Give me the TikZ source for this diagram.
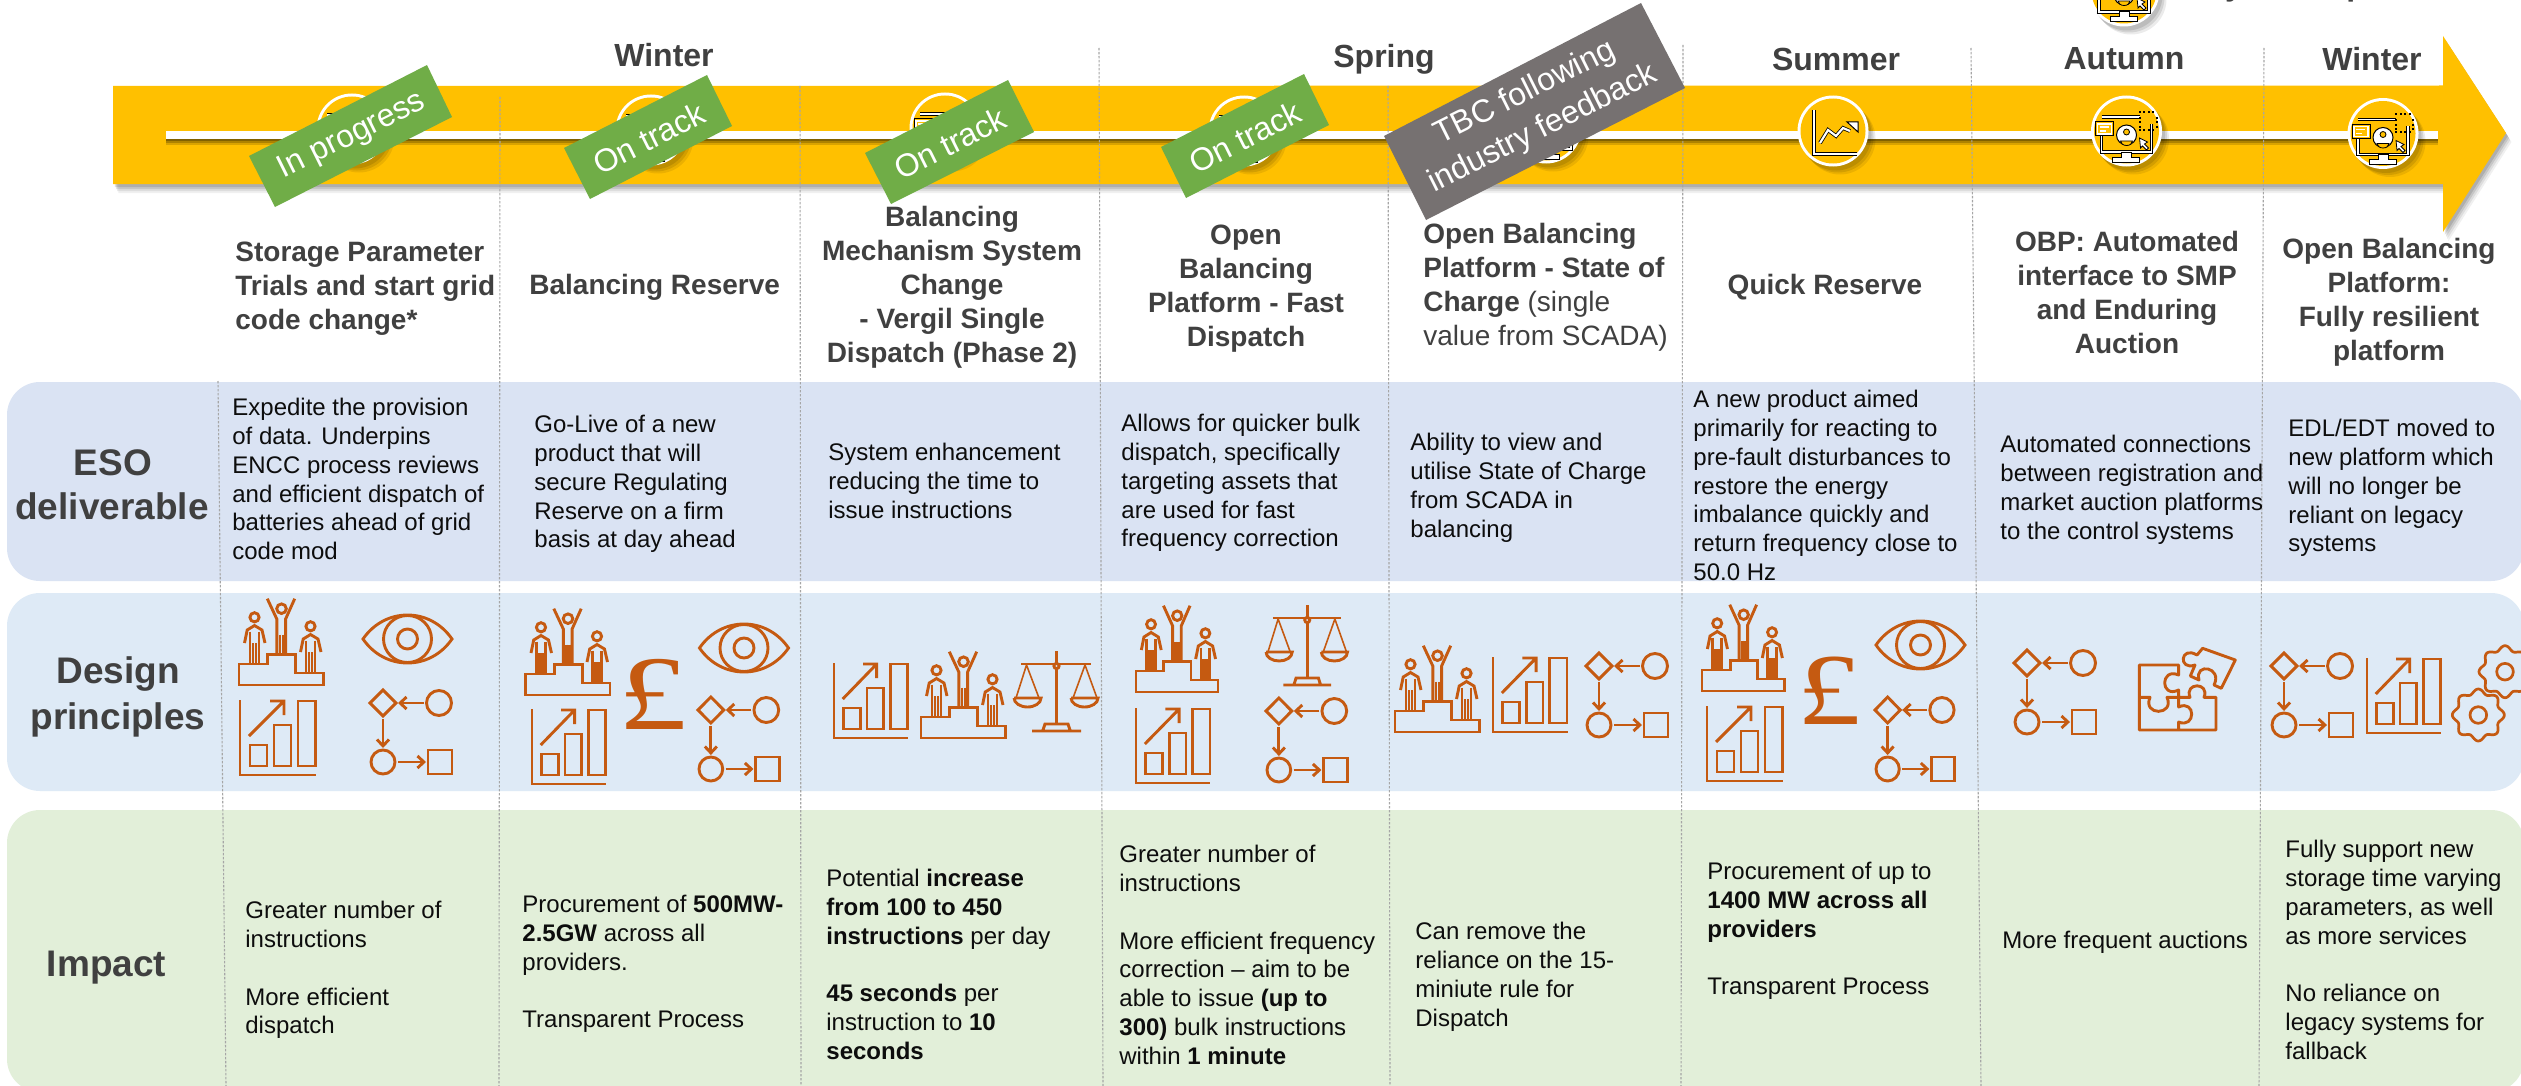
\documentclass[tikz,border=0pt]{standalone}
\usepackage{fontspec}
\setmainfont{Liberation Sans}
\newfontfamily\poundfont{Liberation Serif}
\usetikzlibrary{arrows.meta}
\definecolor{barcol}{HTML}{FFC000}
\definecolor{rowa}{HTML}{DAE3F3}
\definecolor{rowb}{HTML}{DEEAF6}
\definecolor{rowc}{HTML}{E2EFD9}
\definecolor{dark}{HTML}{404040}
\definecolor{bodycol}{HTML}{0D0D0D}
\definecolor{iconc}{HTML}{C55A11}
\definecolor{tagg}{HTML}{70AD47}
\definecolor{tagk}{HTML}{767171}
\definecolor{vln}{HTML}{A6A6A6}
\tikzset{
  bodytxt/.style={font=\fontsize{12}{14.4}\selectfont,text=bodycol,align=left,anchor=north west,inner sep=0pt,yshift=9.08pt,execute at begin node=\strut},
  hdrl/.style={font=\fontsize{14}{17}\selectfont\bfseries,text=dark,align=left,anchor=north west,inner sep=0pt,yshift=11.9pt,execute at begin node=\strut},
  hdrc/.style={font=\fontsize{14}{17}\selectfont\bfseries,text=dark,align=center,anchor=north,inner sep=0pt,yshift=11.9pt,execute at begin node=\strut},
  season/.style={font=\fontsize{16}{19}\selectfont\bfseries,text=dark,anchor=base,inner sep=0pt},
  rowlabel/.style={font=\fontsize{18.5}{22.5}\selectfont\bfseries,text=dark,anchor=base,inner sep=0pt},
  tagtxt/.style={font=\fontsize{16}{19}\selectfont,text=white,align=center,rotate=26.5,inner sep=0pt},
  band/.style={rounded corners=16.5pt},
  vline/.style={draw=vln,line width=0.55pt,dash pattern=on 1.2pt off 0.8pt},
  ico/.style={draw=iconc,line width=1.45pt,line join=miter},
  icohead/.style={ico,-{Straight Barb[length=3.2pt,width=6pt,line width=1.45pt]}},
  iconpodium/.pic={
    \draw[ico] (0,66)--(28.7,66)--(28.7,56.5)--(56.7,56.5)--(56.7,75)--(84.5,75)--(84.5,87)--(0,87)--cycle;
    \draw[ico] (42.5,10.7) circle (4.8);
    \draw[ico] (28.3,.7)--(37.8,21)--(37.8,56.5) (55.7,.7)--(46.6,21)--(46.6,56.5);
    \draw[ico] (41,36.5)--(41,56.5) (44,36.5)--(44,56.5);
    \foreach \dx/\dy in {0/0,56/9}{
      \begin{scope}[shift={(\dx,\dy)}]
      \draw[ico] (15.5,19.3) circle (4.6);
      \draw[ico] (5.5,45)--(8.2,32)--(15.5,27.5)--(23,32)--(26,45);
      \draw[ico] (11,33.5)--(11,66) (20,33.5)--(20,66) (14,45)--(14,66) (17,45)--(17,66);
      \end{scope}}
  },
  iconeye/.pic={
    \draw[ico] (0,24) .. controls (22,-8) and (67,-8) .. (89,24) .. controls (67,56) and (22,56) .. (0,24)--cycle;
    \draw[ico] (44.5,24) ellipse (24 and 23.5);
    \draw[ico] (44.5,24) circle (10);
  },
  iconchart/.pic={
    \draw[ico] (0,0)--(0,75)--(76,75);
    \draw[ico] (10,45) rectangle (27,66);
    \draw[ico] (34,25) rectangle (51,66);
    \draw[ico] (58,1) rectangle (75.5,66);
    \draw[ico] (9,36)--(44,1) (30,1)--(44,1)--(44,15);
  },
  iconflow/.pic={
    \draw[ico] (13,0)--(26,13)--(13,26)--(0,13)--cycle;
    \draw[ico] (69,13) circle (12.5);
    \draw[icohead] (54,13)--(28,13);
    \draw[icohead] (13,29)--(13,58);
    \draw[ico] (13,72) circle (12);
    \draw[icohead] (28,72)--(56,72);
    \draw[ico] (58,60) rectangle (82,84);
  },
  iconscale/.pic={
    \draw[ico] (7,13)--(77,13);
    \draw[ico] (42.5,0)--(42.5,72);
    \draw[ico,fill=rowb] (42.5,15) circle (2.6);
    \draw[ico] (18,80)--(67,80) (29,79)--(31,73)--(54,73)--(56,79);
    \draw[ico,line width=.8pt] (12.5,14)--(2,47) (12.5,14)--(25,47) (71,14)--(59,47) (71,14)--(83,47);
    \draw[ico] (0,47)--(27,47) arc (0:180:13.5 and 9) ;
    \draw[ico] (57,47)--(84,47) arc (0:180:13.5 and 9) ;
  },
  iconpuzzle/.pic={
    \draw[ico,line join=round] (40.6,50.3)--(40.6,43) .. controls (22,52) and (22,20) .. (40.6,28)--(40.6,18)--(1.3,18)--(1.3,83)--(78,83)--(78,50.3)--(66,50.3) .. controls (72,35) and (46,35) .. (52,50.3)--(40.6,50.3)--(40.6,60) .. controls (58,52) and (58,82) .. (40.6,75)--(40.6,83);
    \draw[ico,line join=round] (1.3,50.3)--(12,50.3) .. controls (4,69) and (37,69) .. (29,50.3)--(40.6,50.3);
    \draw[ico,line join=round] (64.6,1.3)--(97.3,13)--(83.3,41.3)--(76,38) .. controls (85,20) and (56,15) .. (61,33)--(52.3,29)--(57,18) .. controls (40,24) and (42,-2) .. (59,8)--cycle;
  },
  icongear/.pic={
    \draw[ico,line width=1.35pt] plot[domain=0:360,samples=145,smooth cycle] (\x:{23.7+2.3*cos(8*\x)});
    \draw[ico,line width=1.35pt] (0,0) circle (8.3);
  },
  iconmonitor/.pic={
    \draw[black,line width=1.6pt] (-25,-14)--(13,-14) (25,-7)--(25,21)--(-25,21)--(-25,0);
    \draw[white,line width=.9pt] (-25,-14)--(13,-14) (25,-7)--(25,21)--(-25,21)--(-25,0);
    \draw[black,fill=white,line width=.5pt] (-5,21)--(-5,26)--(-14,26)--(-14,31)--(13,31)--(13,26)--(5,26)--(5,21)--cycle;
    \draw[black,fill=barcol,line width=.5pt] (-31,-9) rectangle (-13,5);
    \draw[white,line width=.6pt] (-29,-7) rectangle (-15,3);
    \draw[white,line width=.6pt] (-27,-4)--(-18,-4) (-27,0)--(-21,0);
    \draw[black,fill=white,line width=.5pt] (0,4) circle (10);
    \draw[black,fill=barcol,line width=.4pt] (0,1) circle (3);
    \draw[black,fill=barcol,line width=.4pt] (-6,10) arc (180:360:6 and -4.5)--cycle;
    \draw[black,fill=white,line width=.4pt] (13,7)--(21,11)--(18,13)--(22,17)--(20,19)--(16,15)--(14,17)--cycle;
    \foreach \a in {13,17.5,...,30}{\fill[black] (\a-1,-20) rectangle (\a+1,-18); \fill[black] (\a-1,-2) rectangle (\a+1,0);}
    \foreach \b in {-14,-9.5,-5}{\fill[black] (12,\b) rectangle (14,\b+2); \fill[black] (29,\b) rectangle (31,\b+2);}
  },
  iconrise/.pic={
    \draw[black,line width=1.8pt] (-19,-21)--(-19,23)--(24,23);
    \draw[white,line width=1.1pt] (-19,-21)--(-19,23)--(24,23);
    \draw[black,line width=1.9pt] (-13,12)--(-5,-1)--(3,5)--(10,-3)--(17,0);
    \draw[white,line width=1.1pt] (-13,12)--(-5,-1)--(3,5)--(10,-3)--(17,0);
    \draw[black,fill=white,line width=.5pt] (14,-9)--(25,-9)--(25,1)--cycle;
  },
}
\newcommand{\disc}[2]{%
  \foreach \s/\o in {3/.10,5/.10,7/.08}{\fill[black,opacity=\o] (#1+\s,#2+\s+1) circle (35.5);}
  \fill[white] (#1,#2) circle (35.5);
  \fill[barcol] (#1,#2) circle (32.5);}
\begin{document}
\begin{tikzpicture}[x=0.5pt,y=-0.5pt]
\useasboundingbox (0,0) rectangle (2521,1086);
\fill[white] (0,0) rectangle (2521,1086);
% bands
\fill[rowa,band] (7,382) rectangle (2524,581);
\fill[rowb,band] (7,593) rectangle (2524,791);
\fill[rowc,band] (7,810) rectangle (2524,1092);
% arrow shadow and arrow
\foreach \s/\o in {3/.12,5/.10,7/.08,9/.06}{
  \fill[black,opacity=\o] (113+\s*.6,86+\s) -- (2443+\s*.6,85.5+\s) -- (2443+\s*.6,36+\s) -- (2506+\s*.6,133+\s) -- (2443+\s*.6,232+\s) -- (2443+\s*.6,184+\s) -- (113+\s*.6,184+\s) -- cycle;}
\fill[barcol] (113,86) -- (2443,85.5) -- (2443,36) -- (2506,133) -- (2443,232) -- (2443,184) -- (113,184) -- cycle;
% white line
\foreach \s/\o in {2/.25,4/.2,6/.15}{\fill[black,opacity=\o] (166,133+\s) rectangle (2438,139+\s);}
\fill[white] (166,131) rectangle (2438,139);
% vertical dotted lines
\draw[vline] (218,381) -- (226,1086);
\draw[vline] (500,97) -- (499,1086);
\draw[vline] (800,86) -- (801,1086);
\draw[vline] (1099,48) -- (1103,1086);
\draw[vline] (1388,86) -- (1390,1086);
\draw[vline] (1683,45) -- (1681,1086);
\draw[vline] (1971,48) -- (1981,1086);
\draw[vline] (2264,48) -- (2259,1086);
% timeline discs
\disc{352}{129}\pic at (352,129) {iconmonitor};
\disc{651}{130}\pic at (651,130) {iconmonitor};
\disc{945}{128}\pic at (945,128) {iconmonitor};
\disc{1244}{131}\pic at (1244,131) {iconmonitor};
\disc{1546}{128}\pic at (1546,128) {iconmonitor};
\disc{1833}{131}\pic at (1833,131) {iconrise};
\disc{2126.5}{131}\pic at (2126.5,131) {iconmonitor};
\disc{2383}{133.5}\pic at (2383,133.5) {iconmonitor};
\disc{2124}{-9}\pic at (2124,-9) {iconmonitor};
\node[season] (cropy) at (2234,-4) {y};
\node[season] (cropp) at (2356,-4) {p};
% tags
\fill[tagg] (427,65)--(452,117)--(275,207)--(249,156)--cycle;
\fill[tagg] (707,75)--(732,126)--(590,199)--(564,148)--cycle;
\fill[tagg] (1008,80)--(1034,132)--(891,204)--(865,153)--cycle;
\fill[tagg] (1304,74)--(1329,125)--(1186,198)--(1161,147)--cycle;
\fill[tagk] (1641,3)--(1685,88)--(1426,220)--(1384,136)--cycle;
\node[tagtxt] (tag1) at (352,136) {In progress};
\node[tagtxt] (tag2) at (649,138) {On track};
\node[tagtxt] (tag3) at (950,143) {On track};
\node[tagtxt] (tag4) at (1245,137) {On track};
\node[tagtxt] (tag5) at (1534,111) {TBC following\\[1pt]industry feedback};
% seasons
\node[season] (s1) at (664,67) {Winter};
\node[season] (s2) at (1384,68) {Spring};
\node[season] (s3) at (1836,71) {Summer};
\node[season] (s4) at (2124,70) {Autumn};
\node[season] (s5) at (2372,71) {Winter};
% row labels
\node[rowlabel] (r1a) at (113,475) {ESO};
\node[rowlabel] (r1b) at (112,519) {deliverable};
\node[rowlabel] (r2a) at (118,683) {Design};
\node[rowlabel] (r2b) at (118,729) {principles};
\node[rowlabel] (r3) at (106.5,976) {Impact};
% headers
\node[hdrl] (h1) at (235,265) {Storage Parameter\\Trials and start grid\\code change*};
\node[hdrl] (h2) at (529,294.5) {Balancing Reserve};
\node[hdrc] (h3) at (952,230) {Balancing\\Mechanism System\\Change\\- Vergil Single\\Dispatch (Phase 2)};
\node[hdrc] (h4) at (1246,248) {Open\\Balancing\\Platform - Fast\\Dispatch};
\node[hdrl] (h5) at (1423,247) {Open Balancing\\Platform - State of\\Charge {\mdseries (single}\\{\mdseries value from SCADA)}};
\node[hdrc] (h6) at (1825,294.5) {Quick Reserve};
\node[hdrc] (h7) at (2127,254.5) {OBP: Automated\\interface to SMP\\and Enduring\\Auction};
\node[hdrc] (h8) at (2389,262) {Open Balancing\\Platform:\\Fully resilient\\platform};
% deliverables
\node[bodytxt] (d1) at (232,416) {Expedite the provision\\of data. Underpins\\ENCC process reviews\\and efficient dispatch of\\batteries ahead of grid\\code mod};
\node[bodytxt] (d2) at (534,433) {Go-Live of a new\\product that will\\secure Regulating\\Reserve on a firm\\basis at day ahead};
\node[bodytxt] (d3) at (828,461) {System enhancement\\reducing the time to\\issue instructions};
\node[bodytxt] (d4) at (1121,432) {Allows for quicker bulk\\dispatch, specifically\\targeting assets that\\are used for fast\\frequency correction};
\node[bodytxt] (d5) at (1410,451) {Ability to view and\\utilise State of Charge\\from SCADA in\\balancing};
\node[bodytxt] (d6) at (1693,408) {A new product aimed\\primarily for reacting to\\pre-fault disturbances to\\restore the energy\\imbalance quickly and\\return frequency close to\\50.0 Hz};
\node[bodytxt] (d7) at (2000,453) {Automated connections\\between registration and\\market auction platforms\\to the control systems};
\node[bodytxt] (d8) at (2288,437) {EDL/EDT moved to\\new platform which\\will no longer be\\reliant on legacy\\systems};
% impact
\node[bodytxt] (i1) at (245,919) {Greater number of\\instructions\\[14.4pt]More efficient\\dispatch};
\node[bodytxt] (i2) at (522,913) {Procurement of \textbf{500MW-}\\\textbf{2.5GW} across all\\providers.\\[14.4pt]Transparent Process};
\node[bodytxt] (i3) at (826,887) {Potential \textbf{increase}\\\textbf{from 100 to 450}\\\textbf{instructions} per day\\[14.4pt]\textbf{45 seconds} per\\instruction to \textbf{10}\\\textbf{seconds}};
\node[bodytxt] (i4) at (1119,863) {Greater number of\\instructions\\[14.4pt]More efficient frequency\\correction -- aim to be\\able to issue \textbf{(up to}\\\textbf{300)} bulk instructions\\within \textbf{1 minute}};
\node[bodytxt] (i5) at (1415,940) {Can remove the\\reliance on the 15-\\miniute rule for\\Dispatch};
\node[bodytxt] (i6) at (1707,880) {Procurement of up to\\\textbf{1400 MW across all}\\\textbf{providers}\\[14.4pt]Transparent Process};
\node[bodytxt] (i7) at (2002,946) {More frequent auctions};
\node[bodytxt] (i8) at (2285,858) {Fully support new\\storage time varying\\parameters, as well\\as more services\\[14.4pt]No reliance on\\legacy systems for\\fallback};
% icons col A
\pic at (239,598) {iconpodium};
\pic at (363,615) {iconeye};
\pic at (240,700) {iconchart};
\pic at (370,690) {iconflow};
% col B
\pic at (525.5,608) {iconpodium};
\node[font=\fontsize{53}{53}\selectfont\poundfont,text=iconc,inner sep=0pt] (p1) at (653,694) {\scalebox{1.3}[1]{£}};
\pic at (699.5,624) {iconeye};
\pic[xscale=.97] at (532,709) {iconchart};
\pic[xscale=.99] at (698,697) {iconflow};
% col C
\pic[xscale=.97] at (834,663) {iconchart};
\pic at (921,651) {iconpodium};
\pic at (1014,651) {iconscale};
% col D
\pic[xscale=.97] at (1136,605) {iconpodium};
\pic[xscale=.97] at (1266,605) {iconscale};
\pic[xscale=.98] at (1136,708) {iconchart};
\pic[xscale=.99] at (1266,698) {iconflow};
% col E
\pic at (1395,645) {iconpodium};
\pic[xscale=.98] at (1493,657) {iconchart};
\pic at (1586,653) {iconflow};
% col F
\pic[xscale=.98] at (1702,604) {iconpodium};
\node[font=\fontsize{51}{51}\selectfont\poundfont,text=iconc,inner sep=0pt] (p2) at (1829,691) {\scalebox{1.25}[1]{£}};
\pic at (1876,621) {iconeye};
\pic at (1707,706) {iconchart};
\pic[xscale=.97] at (1875,697) {iconflow};
% col G
\pic at (2014,650) {iconflow};
\pic at (2138,647) {iconpuzzle};
% col H
\pic at (2271,653) {iconflow};
\pic[xscale=.97] at (2367,658) {iconchart};
\pic at (2505,671.7) {icongear};
\pic at (2478.3,715) {icongear};
\end{tikzpicture}
\end{document}
